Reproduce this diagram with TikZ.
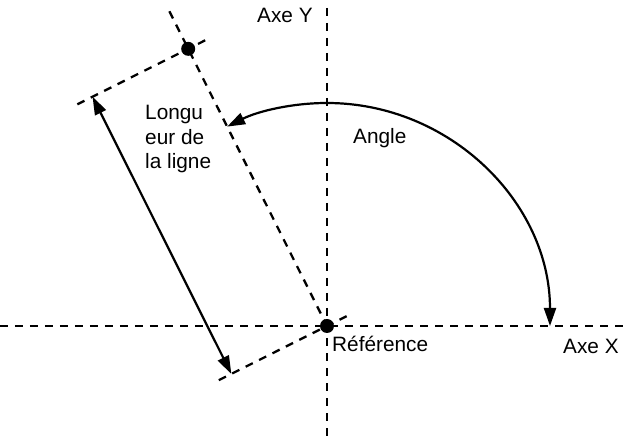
\documentclass[tikz,border=0pt]{standalone}
\usepackage{fontspec}
\setmainfont{Liberation Sans}
\usetikzlibrary{arrows.meta,calc}
\begin{document}
\begin{tikzpicture}[x=1bp,y=1bp,
  dsh/.style={line width=2.3bp, dash pattern=on 8bp off 7bp},
  sol/.style={line width=2.2bp, {Triangle[length=18bp,width=12bp]}-{Triangle[length=18bp,width=12bp]}},
  dotn/.style={circle, fill=black, minimum size=14bp, inner sep=0pt},
  lbl/.style={font=\fontsize{20.8bp}{24.5bp}\selectfont, inner sep=0pt}]
\useasboundingbox (-327,-114) rectangle (304,326);
\def\ang{116.6}
\coordinate (xl) at (-327,0);
\coordinate (xr) at (300,0);
\coordinate (yt) at (0,318);
\coordinate (yb) at (0,-114);
\coordinate (R) at (0,0);
\coordinate (P) at (\ang:310);
\coordinate (T) at (\ang:352);
\coordinate (p1) at ($(P)+(\ang+90:124)$);
\coordinate (p2) at ($(P)+(\ang-90:19)$);
\coordinate (r1) at ($(R)+(\ang+90:121)$);
\coordinate (r2) at ($(R)+(\ang-90:23)$);
\coordinate (a1) at ($(P)+(\ang+90:107)$);
\coordinate (a2) at ($(R)+(\ang+90:107)$);
\coordinate (A0) at (0:223);
\draw[dsh] (xl) -- (xr);
\draw[dsh] (yt) -- (yb);
\draw[dsh] (T) -- (R);
\draw[dsh] (p1) -- (p2);
\draw[dsh] (r1) -- (r2);
\draw[sol] (a1) -- (a2);
\draw[sol] (A0) arc[start angle=0,end angle=\ang,radius=223];
\node[dotn] (Rd) at (R) {};
\node[dotn] (Pd) at (P) {};
\node[lbl, anchor=base west] (ref) at (5,-26) {Référence};
\node[lbl, anchor=base west] (angle) at (26,182) {Angle};
\node[lbl, anchor=base west] (axey) at (-70,303) {Axe Y};
\node[lbl, anchor=base west] (axex) at (236,-28) {Axe X};
\node[lbl, anchor=north west, align=left] (len) at (-182,221) {Longu\\eur de\\la ligne};
\end{tikzpicture}
\end{document}
